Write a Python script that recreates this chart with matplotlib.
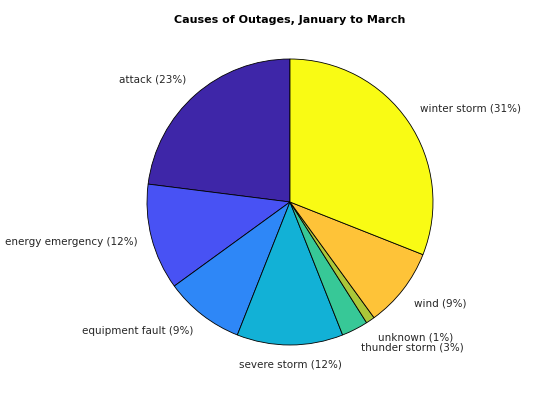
import numpy as np
import matplotlib
matplotlib.use("Agg")
import matplotlib.pyplot as plt

# ── data ──────────────────────────────────────────────
causes = ["attack", "energy emergency", "equipment fault", "severe storm",
          "thunder storm", "unknown", "wind", "winter storm"]
shares = [23, 12, 9, 12, 3, 1, 9, 31]

# parula(8)
colors = ["#3E26A8", "#4852F4", "#2E87F7", "#12B1D6",
          "#37C897", "#ABC739", "#FEC338", "#F9FB14"]

labels = [f"{c} ({round(100 * s / sum(shares))}%)" for c, s in zip(causes, shares)]

plt.rcParams["font.family"] = "DejaVu Sans"

fig = plt.figure(figsize=(5.6, 4.2), dpi=100)
ax = fig.add_axes([0.2114, 0.1105, 0.6129, 0.8171])

wedges, texts = ax.pie(shares, labels=labels, colors=colors, startangle=90,
                       counterclock=True, labeldistance=1.1,
                       wedgeprops={"edgecolor": "black", "linewidth": 0.6},
                       textprops={"fontsize": 7.5, "color": "#262626"})

# MATLAB-style label alignment
for t in texts:
    x, y = t.get_position()
    if y > 0.3:
        t.set_va("bottom")
    elif y < -0.3:
        t.set_va("top")
    else:
        t.set_va("center_baseline")
    if abs(x) < 0.3:
        t.set_ha("center")

ax.set_xlim(-1.2, 1.2)
ax.set_ylim(-1.2, 1.2)
ax.set_aspect("equal")
ax.axis("off")
ax.set_title("Causes of Outages, January to March", fontsize=8,
             fontweight="bold", pad=5)

fig.savefig("out.png", dpi=100)
plt.close(fig)
